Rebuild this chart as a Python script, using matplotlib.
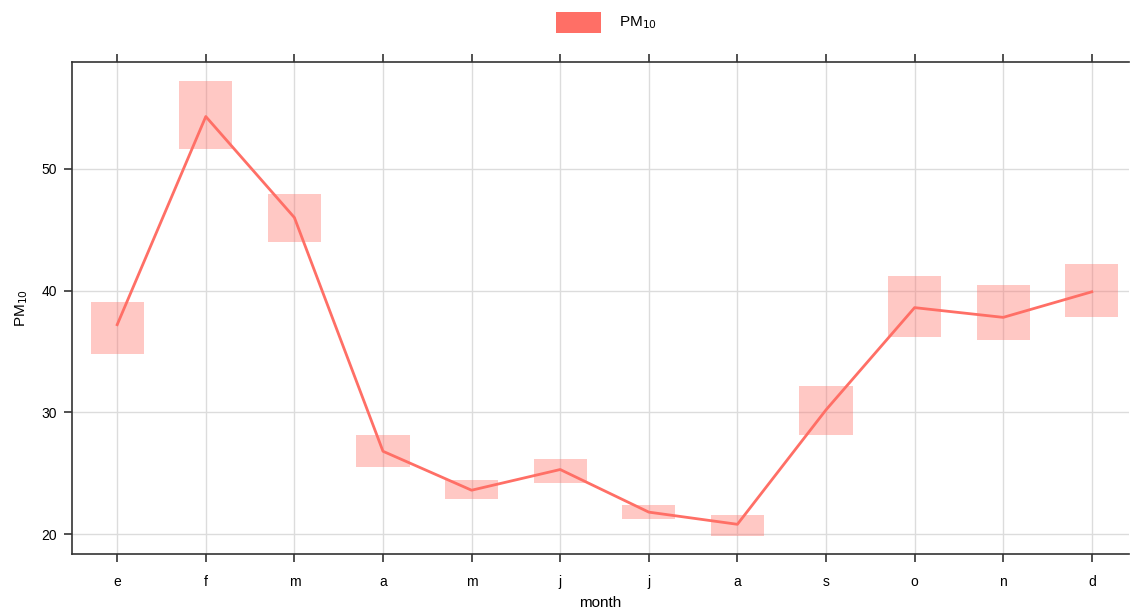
import matplotlib
matplotlib.use("Agg")
import matplotlib.pyplot as plt
from matplotlib.patches import Rectangle

plt.rcParams['font.family'] = ['Liberation Sans', 'DejaVu Sans']

months = ['e', 'f', 'm', 'a', 'm', 'j', 'j', 'a', 's', 'o', 'n', 'd']
pm10_mean = [37.2, 54.3, 46.0, 26.8, 23.6, 25.3, 21.8, 20.8, 30.2, 38.6, 37.8, 39.9]
pm10_lower = [34.8, 51.6, 44.0, 25.5, 22.9, 24.2, 21.2, 19.8, 28.1, 36.2, 35.9, 37.8]
pm10_upper = [39.1, 57.2, 47.9, 28.1, 24.4, 26.2, 22.4, 21.6, 32.2, 41.2, 40.5, 42.2]
yticks = [20, 30, 40, 50]

line_col = '#FF6F66'
W, H = 1131, 610
fig = plt.figure(figsize=(W / 100, H / 100), dpi=100)
ax = fig.add_axes([72 / W, 1 - 554 / H, (1129 - 72) / W, (554 - 62) / H])

x = list(range(1, len(months) + 1))
for xi, lo, hi in zip(x, pm10_lower, pm10_upper):
    ax.add_patch(Rectangle((xi - 0.3, lo), 0.6, hi - lo, facecolor=line_col,
                           alpha=0.38, edgecolor='none', zorder=2))
ax.plot(x, pm10_mean, color=line_col, lw=2, zorder=3)

ax.set_xlim(0.49, 12.42)
ax.set_ylim(18.36, 58.78)
ax.set_xticks(x)
ax.set_xticklabels(months, fontsize=10)
ax.set_yticks(yticks)
ax.set_yticklabels([str(v) for v in yticks], fontsize=10)
ax.grid(True, color='#dcdcdc', lw=1, zorder=0)
ax.set_axisbelow(True)
ax.tick_params(axis='x', direction='out', length=6, width=1.2, color='#333333',
               top=True, pad=9)
ax.tick_params(axis='y', direction='out', length=6, width=1.2, color='#333333',
               right=False, pad=5)
for s in ax.spines.values():
    s.set_color('#333333')
    s.set_linewidth(1.2)
ax.spines['right'].set_visible(False)

ax.set_xlabel('month', fontsize=11, labelpad=5)
ax.set_ylabel('PM$_{10}$', fontsize=11, labelpad=8)

# legend at top
fig.patches.append(Rectangle((556 / W, 1 - 33 / H), 45 / W, 21 / H, transform=fig.transFigure,
                             facecolor=line_col, edgecolor='none'))
fig.text(619 / W, 1 - 23 / H, 'PM$_{10}$', fontsize=11, va='center', ha='left')

fig.savefig('out.png', dpi=100)
